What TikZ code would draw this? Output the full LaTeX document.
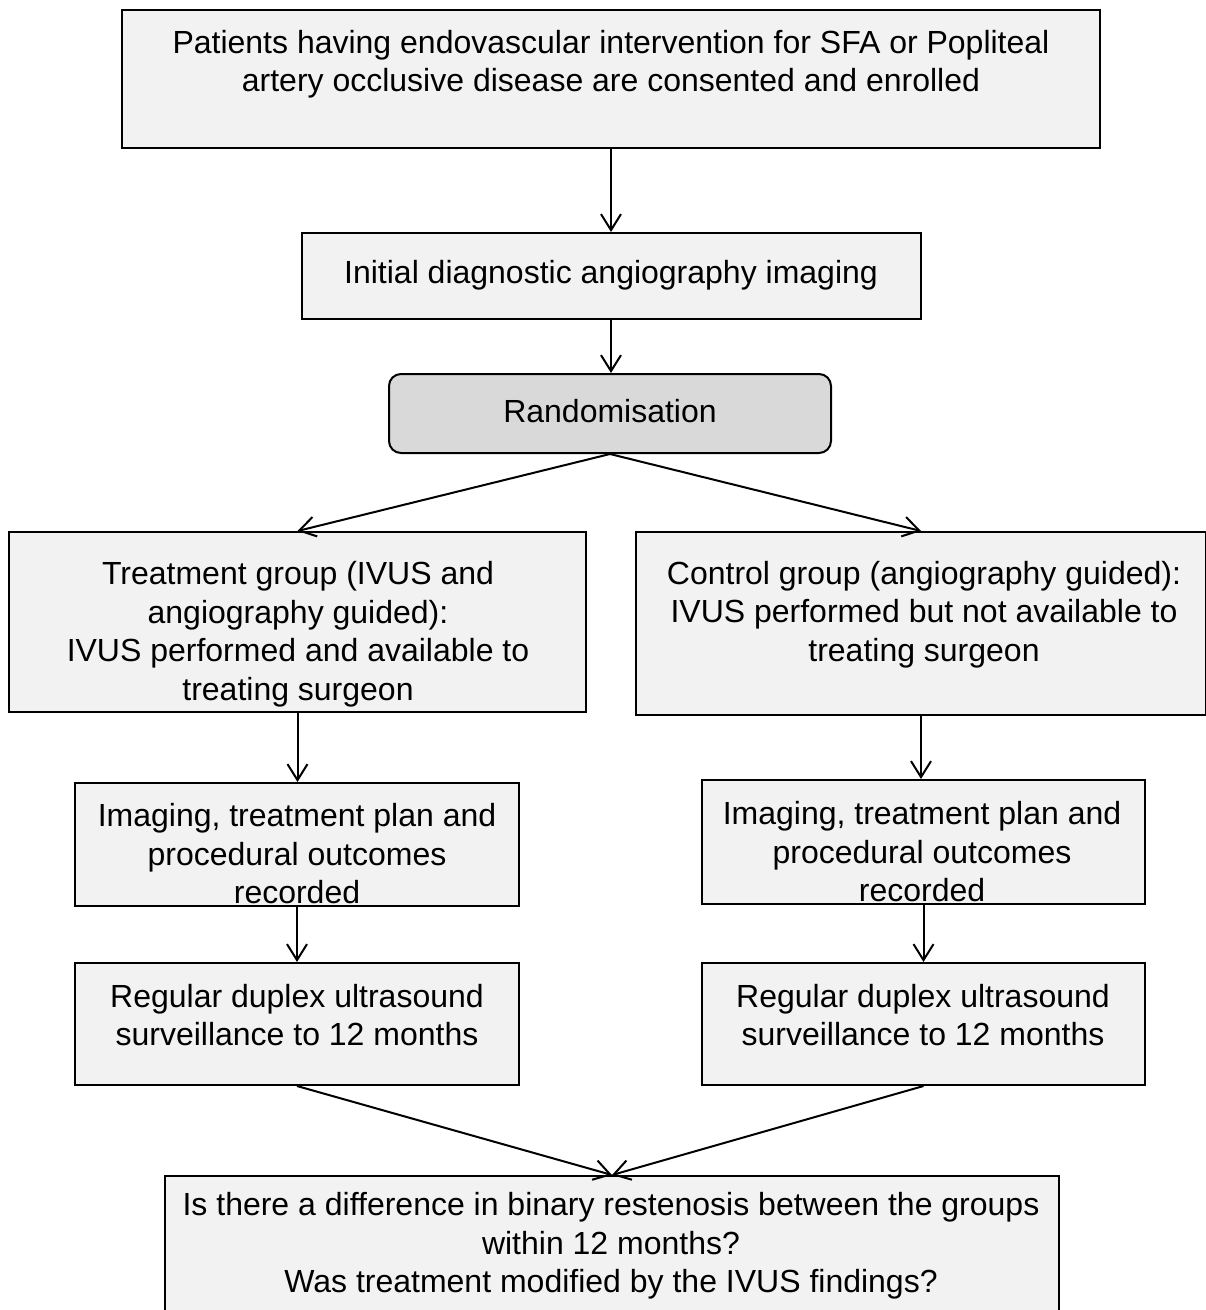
\documentclass[tikz,border=0pt]{standalone}
\usepackage{fontspec}
\setmainfont{Liberation Sans}
\usetikzlibrary{arrows.meta, positioning}
\definecolor{boxgray}{RGB}{242,242,242}
\definecolor{randgray}{RGB}{217,217,217}
\tikzset{
  box/.style={rectangle, draw=black, fill=boxgray, line width=2pt, inner sep=0pt},
  randbox/.style={box, fill=randgray, rounded corners=12pt},
  txt/.style={align=center, font=\fontsize{32}{38.5}\selectfont, inner sep=0pt},
  arrow/.style={-{Straight Barb[length=16pt,width=20pt]}, line width=2pt, color=black},
  line/.style={line width=2pt, color=black}
}

\begin{document}
\begin{tikzpicture}[x=1pt, y=-1pt]
  \useasboundingbox (0,0) rectangle (1206,1310);

  % Boxes
  \node[box, minimum width=978, minimum height=138] (enrol) at (611,79) {};
  \node[box, minimum width=619, minimum height=86] (diag) at (611,276) {};
  \node[randbox, minimum width=442, minimum height=79] (rand) at (610,413.5) {};
  \node[box, minimum width=577, minimum height=180] (treat) at (297.5,622) {};
  \node[box, minimum width=570, minimum height=183] (ctrl) at (921,623.5) {};
  \node[box, minimum width=444, minimum height=123] (imgL) at (297,844.5) {};
  \node[box, minimum width=443, minimum height=124] (imgR) at (923.5,842) {};
  \node[box, minimum width=444, minimum height=122] (survL) at (297,1024) {};
  \node[box, minimum width=443, minimum height=122] (survR) at (923.5,1024) {};
  \node[box, minimum width=894, minimum height=164] (outcome) at (612,1258) {};

  % Texts
  \node[txt] (enrol-t) at (611,64) {Patients having endovascular intervention for SFA or Popliteal\\artery occlusive disease are consented and enrolled};
  \node[txt] (diag-t) at (611,275) {Initial diagnostic angiography imaging};
  \node[txt] (rand-t) at (610,411) {Randomisation};
  \node[txt] (treat-t) at (298,634) {Treatment group (IVUS and\\angiography guided):\\IVUS performed and available to\\treating surgeon};
  \node[txt] (ctrl-t) at (924,614.5) {Control group (angiography guided):\\IVUS performed but not available to\\treating surgeon};
  \node[txt] (imgL-t) at (297,854) {Imaging, treatment plan and\\procedural outcomes\\recorded};
  \node[txt] (imgR-t) at (922,852) {Imaging, treatment plan and\\procedural outcomes\\recorded};
  \node[txt] (survL-t) at (297,1015) {Regular duplex ultrasound\\surveillance to 12 months};
  \node[txt] (survR-t) at (923,1015) {Regular duplex ultrasound\\surveillance to 12 months};
  \node[txt] (outcome-t) at (611,1246) {Is there a difference in binary restenosis between the groups\\within 12 months?\\Was treatment modified by the IVUS findings?};

  % Connectors
  \draw[arrow] (enrol.south) -- (diag.north);
  \draw[arrow] (diag.south) -- (diag.south |- rand.north);
  \draw[arrow] (rand.south) -- (treat.north);
  \draw[arrow] (rand.south) -- (ctrl.north);
  \draw[arrow] (treat.south) -- (treat.south |- imgL.north);
  \draw[arrow] (imgL.south) -- (survL.north);
  \draw[arrow] (ctrl.south) -- (ctrl.south |- imgR.north);
  \draw[arrow] (imgR.south) -- (survR.north);
  \draw[arrow] (survL.south) -- (outcome.north);
  \draw[arrow] (survR.south) -- (outcome.north);
\end{tikzpicture}
\end{document}
